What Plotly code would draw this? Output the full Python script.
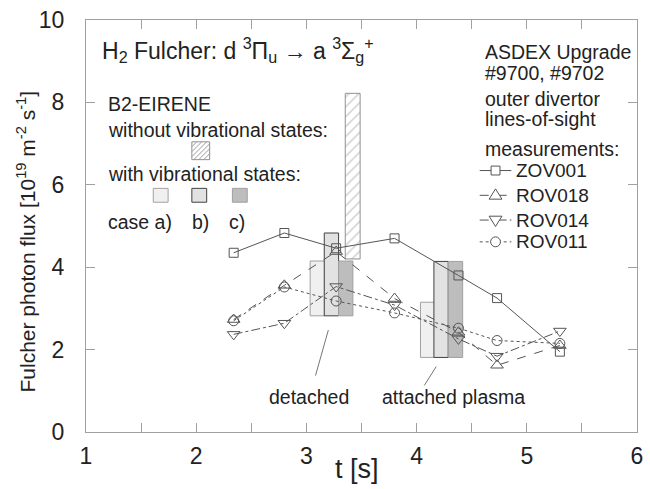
import plotly.graph_objects as go

# ---------------- data ----------------
t_meas = [2.34, 2.80, 3.27, 3.80, 4.38, 4.73, 5.30]
zov001 = [4.35, 4.83, 4.46, 4.70, 3.80, 3.25, 1.95]
rov018 = [2.73, 3.56, 4.38, 3.24, 2.42, 1.62, 2.10]
rov014 = [2.37, 2.64, 3.53, 3.08, 2.26, 1.84, 2.45]
rov011 = [2.70, 3.52, 3.18, 2.89, 2.52, 2.22, 2.15]

# B2-EIRENE bars (with vibrational states): cases a), b), c)
bar_t_a = [3.099, 4.100]
bar_t_b = [3.227, 4.222]
bar_t_c = [3.357, 4.353]
bar_base = [2.82, 1.81]
bar_top_a = [4.15, 3.15]
bar_top_b = [4.83, 4.14]
bar_top_c = [4.15, 4.14]
# without vibrational states
bar_t_nv = [3.420]
bar_base_nv = [4.20]
bar_top_nv = [8.22]

x_ticks = [1, 2, 3, 4, 5, 6]
y_ticks = [0, 2, 4, 6, 8, 10]

# ---------------- layout geometry ----------------
W, H = 650, 489
L, R, T, B = 86, 643, 16, 432


def px(x):
    return (x - L) / (R - L)


def py(y):
    return (B - y) / (B - T)


FONT = "Liberation Sans, Arial, sans-serif"
INK = "#222222"
LINE = "#555555"

fig = go.Figure()

bw = 0.13
fig.add_trace(go.Bar(x=bar_t_a, y=[t - b for t, b in zip(bar_top_a, bar_base)], base=bar_base,
                     width=bw, marker=dict(color="#f0f0f0", line=dict(color="#a0a0a0", width=1)),
                     showlegend=False))
fig.add_trace(go.Bar(x=bar_t_b, y=[t - b for t, b in zip(bar_top_b, bar_base)], base=bar_base,
                     width=bw, marker=dict(color="#e2e2e2", line=dict(color="#404040", width=1)),
                     showlegend=False))
fig.add_trace(go.Bar(x=bar_t_c, y=[t - b for t, b in zip(bar_top_c, bar_base)], base=bar_base,
                     width=bw, marker=dict(color="#bdbdbd", line=dict(color="#a0a0a0", width=1)),
                     showlegend=False))
fig.add_trace(go.Bar(x=bar_t_nv, y=[t - b for t, b in zip(bar_top_nv, bar_base_nv)], base=bar_base_nv,
                     width=0.135,
                     marker=dict(color="white", line=dict(color="#909090", width=1),
                                 pattern=dict(shape="/", fgcolor="#9a9a9a", bgcolor="white",
                                              size=7, solidity=0.2)),
                     showlegend=False))

series = [
    ("ZOV001", zov001, "square-open", "solid", 9),
    ("ROV018", rov018, "triangle-up-open", "dash", 11),
    ("ROV014", rov014, "triangle-down-open", "dashdot", 11),
    ("ROV011", rov011, "circle-open", "dot", 10),
]
for name, vals, sym, dash, ms in series:
    fig.add_trace(go.Scatter(
        x=t_meas, y=vals, name=name, mode="lines+markers", showlegend=False,
        line=dict(color=LINE, width=1, dash=dash),
        marker=dict(symbol=sym, size=ms, color=LINE, line=dict(color=LINE, width=1)),
    ))

annotations = []


def text(s, x, y, size=18, xanchor="left", **kw):
    annotations.append(dict(text=s, x=px(x), y=py(y), xref="paper", yref="paper",
                            xanchor=xanchor, yanchor="middle", showarrow=False,
                            font=dict(family=FONT, size=size, color=INK), **kw))


text("H<sub>2</sub> Fulcher: d <sup>3</sup>Π<sub>u</sub> → a <sup>3</sup>Σ<sub>g</sub><sup>+</sup>",
     100, 46, size=23)
text("B2-EIRENE", 106, 101, size=19.5)
text("without vibrational states:", 106, 127, size=19.5)
text("with vibrational states:", 106, 171, size=19.5)
text("case a)", 106, 220, size=19.5)
text("b)", 191, 220, size=19.5)
text("c)", 229, 220, size=19.5)

text("ASDEX Upgrade", 487, 48, size=19.5)
text("#9700, #9702", 487, 70, size=19.5)
text("outer divertor", 487, 96, size=19.5)
text("lines-of-sight", 487, 116, size=19.5)
text("measurements:", 487, 146, size=19.5)

text("detached", 311, 397, size=19.5, xanchor="center")
text("attached plasma", 457, 397, size=19.5, xanchor="center")

# axis titles
annotations.append(dict(text="t [s]", x=px(360), y=py(469), xref="paper", yref="paper",
                        xanchor="center", yanchor="middle", showarrow=False,
                        font=dict(family=FONT, size=27, color=INK)))
annotations.append(dict(text="Fulcher photon flux [10<sup>19</sup> m<sup>-2</sup> s<sup>-1</sup>]",
                        x=px(25), y=py(240), xref="paper", yref="paper", textangle=-90,
                        xanchor="center", yanchor="middle", showarrow=False,
                        font=dict(family=FONT, size=21, color=INK)))

shapes = []


def pline(x0, y0, x1, y1, color="#777777", dash="solid"):
    shapes.append(dict(type="line", xref="paper", yref="paper", x0=px(x0), y0=py(y0),
                       x1=px(x1), y1=py(y1), line=dict(color=color, width=1, dash=dash)))


# legend keys for bars
keys = [((154, 169), "#f0f0f0", "#a0a0a0"), ((193, 208), "#e2e2e2", "#404040"),
        ((234, 249), "#bdbdbd", "#a0a0a0")]
for (x0, x1), fill, edge in keys:
    shapes.append(dict(type="rect", xref="paper", yref="paper", x0=px(x0), x1=px(x1),
                       y0=py(200), y1=py(186), fillcolor=fill, line=dict(color=edge, width=1)))
# hatched key
hx0, hx1, hy0, hy1 = 193, 211, 139, 157
shapes.append(dict(type="rect", xref="paper", yref="paper", x0=px(hx0), x1=px(hx1),
                   y0=py(hy1), y1=py(hy0), fillcolor="white", line=dict(color="#909090", width=1)))
c = hx0 + hy0 + 5
while c < hx1 + hy1:
    xa = max(hx0, c - hy1)
    xb = min(hx1, c - hy0)
    if xb > xa:
        pline(xa, c - xa, xb, c - xb, color="#9a9a9a")
    c += 5

# pointer lines to labels
pline(331, 329, 318, 375)
pline(440, 366, 428, 385)

# legend for the measurements (drawn by hand, like the original)
leg_rows = [168, 193, 218, 240]
for (name, _vals, sym, dash, ms), yy in zip(series, leg_rows):
    pline(484, yy, 516, yy, color=LINE, dash=dash)
    cx = 500
    if sym == "square-open":
        h = 4.5
        shapes.append(dict(type="rect", xref="paper", yref="paper", x0=px(cx - h), x1=px(cx + h),
                           y0=py(yy + h), y1=py(yy - h), fillcolor="white",
                           line=dict(color=LINE, width=1)))
    elif sym == "circle-open":
        h = 5
        shapes.append(dict(type="circle", xref="paper", yref="paper", x0=px(cx - h), x1=px(cx + h),
                           y0=py(yy + h), y1=py(yy - h), fillcolor="white",
                           line=dict(color=LINE, width=1)))
    else:
        s = 6.5
        if sym == "triangle-up-open":
            pts = [(cx - s, yy + s * 0.6), (cx + s, yy + s * 0.6), (cx, yy - s)]
        else:
            pts = [(cx - s, yy - s * 0.6), (cx + s, yy - s * 0.6), (cx, yy + s)]
        path = "M " + " L ".join(f"{px(a):.5f},{py(b):.5f}" for a, b in pts) + " Z"
        shapes.append(dict(type="path", xref="paper", yref="paper", path=path,
                           fillcolor="white", line=dict(color=LINE, width=1)))
    text(name, 519, yy, size=19)

axis_common = dict(showline=True, linecolor="#a0a0a0", linewidth=1, mirror="ticks",
                   ticks="inside", ticklen=9, tickcolor="#a0a0a0", showgrid=False,
                   zeroline=False, tickfont=dict(family=FONT, size=23, color=INK))

fig.update_layout(
    width=W, height=H,
    margin=dict(l=L, r=W - R, t=T, b=H - B),
    paper_bgcolor="white", plot_bgcolor="white",
    barmode="overlay",
    showlegend=False,
    xaxis=dict(range=[1, 6], tickvals=x_ticks, ticktext=[str(v) for v in x_ticks],
               minor=dict(dtick=0.5, ticks="inside", ticklen=9, tickcolor="#a0a0a0"),
               ticklabelstandoff=3, **axis_common),
    yaxis=dict(range=[0, 10], tickvals=y_ticks, ticktext=[str(v) for v in y_ticks],
               ticklabelstandoff=16, **axis_common),
    annotations=annotations,
    shapes=shapes,
)

fig.write_html("out.html", config={"displayModeBar": False},
               post_script="document.body.style.margin='0px';")
